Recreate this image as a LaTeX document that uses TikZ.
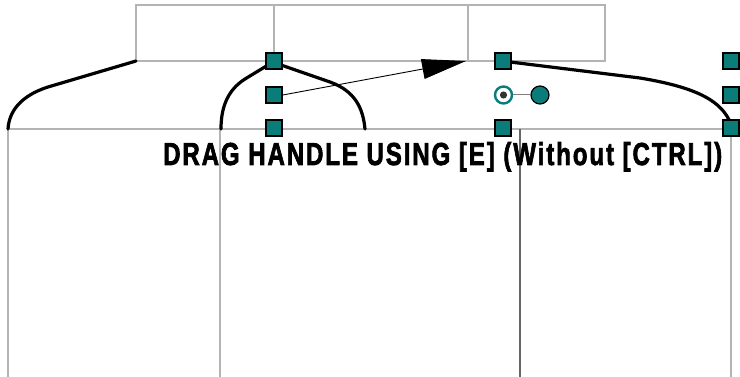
\documentclass[tikz,border=0pt]{standalone}
\usepackage{fontspec}
\setmainfont{Liberation Sans}
\usetikzlibrary{arrows.meta}
\definecolor{handleteal}{HTML}{0A7D7A}
\definecolor{guidegray}{HTML}{B4B4B4}
\tikzset{
  guide/.style={draw=guidegray, line width=1.2pt},
  guidedark/.style={draw=gray!80!black, line width=1.4pt},
  curve/.style={draw=black, line width=3.2pt, line cap=round},
  handle/.style={draw=black, fill=handleteal, line width=1.5pt,
    minimum size=16pt, inner sep=0pt, rectangle,
    path picture={
      \draw[gray!70, line width=2.2pt]
        (path picture bounding box.south west) --
        (path picture bounding box.north west) --
        (path picture bounding box.north east);
    }},
  pointer/.style={draw=black, line width=0.9pt,
    -{Triangle[length=44pt,width=20pt]}},
}
\begin{document}
\begin{tikzpicture}[x=1pt,y=-1pt]
\useasboundingbox (0,0) rectangle (740,377);

% top frame with two dividers
\draw[guide] (136,5) rectangle (605,61);
\draw[guide] (274,5) -- (274,61);
\draw[guide] (468,5) -- (468,61);

% lower frame
\draw[guide] (8,129) -- (740,129);
\draw[guide] (8,129) -- (8,377);
\draw[guide] (220,129) -- (220,377);
\draw[guidedark] (520,129) -- (520,377);
\draw[guide] (731,129) -- (731,377);

% corner coordinates
\coordinate (tl) at (136,61);
\coordinate (tm) at (466,61);

% curves
\draw[curve] (tl) -- (48,87) .. controls (20,96) and (9,112) .. (8,129);
\draw[curve] (268,65) -- (245,79) .. controls (226,91) and (221,110) .. (221,129);
\draw[curve] (281,65) -- (330,82) .. controls (355,91) and (363,108) .. (365,129);
\draw[curve] (510,62) -- (640,78) .. controls (700,88) and (722,102) .. (731,124);

% handles
\node[handle] (h1) at (274,61) {};
\node[handle] (h2) at (274,95) {};
\node[handle] (h3) at (274,128) {};
\node[handle] (h4) at (503,61) {};
\node[handle] (h5) at (503,128) {};
\node[handle] (h6) at (731,61) {};
\node[handle] (h7) at (731,95) {};
\node[handle] (h8) at (731,128) {};

% pointer arrow
\draw[pointer] (h2.east) -- (tm);

% rotation pivot and knob
\node[circle, draw=handleteal, fill=white, line width=2.4pt, minimum size=17pt, inner sep=0pt] (piv) at (503.5,95) {};
\fill[black!80] (piv.center) circle (3.6pt);
\node[circle, draw=black, fill=handleteal, line width=1.2pt, minimum size=18pt, inner sep=0pt] (knob) at (540,95) {};
\draw[draw=gray, line width=1pt] (piv) -- (knob);

% caption
\node[anchor=base west, inner sep=0pt] (cap) at (163,165)
  {\resizebox{559pt}{23pt}{\addfontfeatures{LetterSpace=8,FakeBold=2.5}\bfseries DRAG HANDLE USING [E] (Without [CTRL])}};
\end{tikzpicture}
\end{document}
